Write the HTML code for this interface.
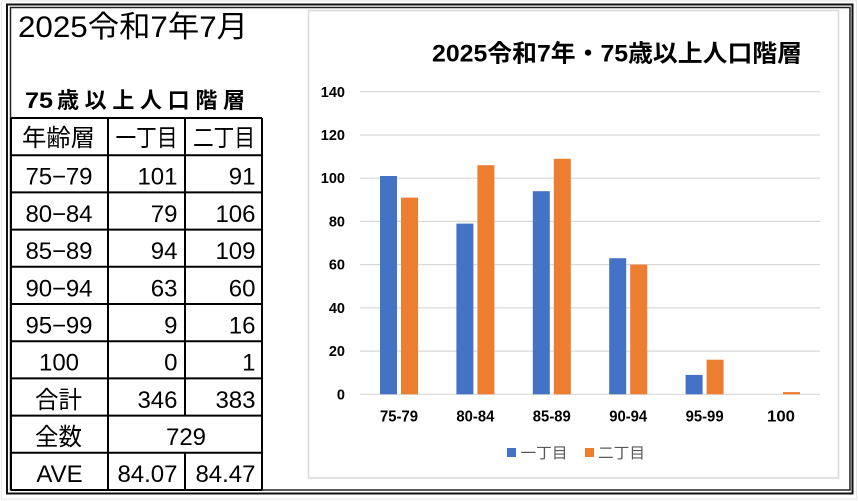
<!DOCTYPE html>
<html>
<head>
<meta charset="utf-8">
<style>
  html,body{margin:0;padding:0;background:#fff;}
  svg{display:block;}
  text{font-family:"Liberation Sans","Noto Sans CJK JP",sans-serif;}
</style>
</head>
<body>
<svg width="858" height="501" viewBox="0 0 858 501" xmlns="http://www.w3.org/2000/svg">
  <rect x="0" y="0" width="858" height="501" fill="#fff"/>

  <!-- faint outer edge -->
  <rect x="1.5" y="1" width="855" height="498" fill="none" stroke="#e6e6e6" stroke-width="1"/>

  <!-- double frame -->
  <rect x="7" y="4.5" width="845.5" height="489" fill="none" stroke="#111" stroke-width="2"/>
  <rect x="10.5" y="7.5" width="839.5" height="482.5" fill="none" stroke="#222" stroke-width="1.5"/>

  <!-- Left panel title -->
  <text x="18" y="37" font-size="30" fill="#000" textLength="230" lengthAdjust="spacingAndGlyphs">2025令和7年7月</text>
  <text x="25" y="108" font-size="22" font-weight="bold" fill="#000" textLength="28" lengthAdjust="spacingAndGlyphs">75</text>
  <text x="57" y="108" font-size="22" font-weight="bold" fill="#000" textLength="188" lengthAdjust="spacing">歳以上人口階層</text>

  <!-- Table grid -->
  <g stroke="#000" stroke-width="2" fill="none">
    <line x1="11" y1="118" x2="262" y2="118"/>
    <line x1="11" y1="155.2" x2="262" y2="155.2"/>
    <line x1="11" y1="192.4" x2="262" y2="192.4"/>
    <line x1="11" y1="229.6" x2="262" y2="229.6"/>
    <line x1="11" y1="266.8" x2="262" y2="266.8"/>
    <line x1="11" y1="304" x2="262" y2="304"/>
    <line x1="11" y1="341.2" x2="262" y2="341.2"/>
    <line x1="11" y1="378.4" x2="262" y2="378.4"/>
    <line x1="11" y1="415.6" x2="262" y2="415.6"/>
    <line x1="11" y1="452.8" x2="262" y2="452.8"/>
    <line x1="11" y1="490" x2="262" y2="490"/>
    <line x1="11" y1="118" x2="11" y2="490"/>
    <line x1="108" y1="118" x2="108" y2="490"/>
    <line x1="185" y1="118" x2="185" y2="415.6"/>
    <line x1="185" y1="452.8" x2="185" y2="490"/>
    <line x1="262" y1="118" x2="262" y2="490"/>
  </g>

  <!-- Table text -->
  <g font-size="24" fill="#000">
    <text x="58.5" y="146" text-anchor="middle" textLength="73" lengthAdjust="spacingAndGlyphs">年齢層</text>
    <text x="146.5" y="146" text-anchor="middle" textLength="62" lengthAdjust="spacingAndGlyphs">一丁目</text>
    <text x="224" y="146" text-anchor="middle" textLength="62" lengthAdjust="spacingAndGlyphs">二丁目</text>

    <text x="59" y="184.7" text-anchor="middle" textLength="67" lengthAdjust="spacing">75−79</text>
    <text x="177.5" y="184.7" text-anchor="end">101</text>
    <text x="255.5" y="184.7" text-anchor="end">91</text>

    <text x="59" y="221.9" text-anchor="middle" textLength="67" lengthAdjust="spacing">80−84</text>
    <text x="177.5" y="221.9" text-anchor="end">79</text>
    <text x="255.5" y="221.9" text-anchor="end">106</text>

    <text x="59" y="259.1" text-anchor="middle" textLength="67" lengthAdjust="spacing">85−89</text>
    <text x="177.5" y="259.1" text-anchor="end">94</text>
    <text x="255.5" y="259.1" text-anchor="end">109</text>

    <text x="59" y="296.3" text-anchor="middle" textLength="67" lengthAdjust="spacing">90−94</text>
    <text x="177.5" y="296.3" text-anchor="end">63</text>
    <text x="255.5" y="296.3" text-anchor="end">60</text>

    <text x="59" y="333.5" text-anchor="middle" textLength="67" lengthAdjust="spacing">95−99</text>
    <text x="177.5" y="333.5" text-anchor="end">9</text>
    <text x="255.5" y="333.5" text-anchor="end">16</text>

    <text x="59" y="370.7" text-anchor="middle">100</text>
    <text x="177.5" y="370.7" text-anchor="end">0</text>
    <text x="255.5" y="370.7" text-anchor="end">1</text>

    <text x="58.5" y="407.9" text-anchor="middle" textLength="47" lengthAdjust="spacingAndGlyphs">合計</text>
    <text x="177.5" y="407.9" text-anchor="end">346</text>
    <text x="255.5" y="407.9" text-anchor="end">383</text>

    <text x="58.5" y="445.1" text-anchor="middle" textLength="47" lengthAdjust="spacingAndGlyphs">全数</text>
    <text x="186" y="445.1" text-anchor="middle">729</text>

    <text x="59.5" y="482" text-anchor="middle">AVE</text>
    <text x="177.5" y="482" text-anchor="end">84.07</text>
    <text x="255.5" y="482" text-anchor="end">84.47</text>
  </g>

  <!-- Chart box -->
  <rect x="308.5" y="10.5" width="530" height="467.5" fill="#fff" stroke="#d9d9d9" stroke-width="1.5"/>

  <!-- Chart title -->
  <text x="432" y="61.5" font-size="24" font-weight="bold" fill="#000" textLength="370" lengthAdjust="spacingAndGlyphs">2025令和7年・75歳以上人口階層</text>

  <!-- Gridlines -->
  <g stroke="#d9d9d9" stroke-width="1.2">
    <line x1="360" y1="394.3" x2="820" y2="394.3"/>
    <line x1="360" y1="351.1" x2="820" y2="351.1"/>
    <line x1="360" y1="307.9" x2="820" y2="307.9"/>
    <line x1="360" y1="264.6" x2="820" y2="264.6"/>
    <line x1="360" y1="221.4" x2="820" y2="221.4"/>
    <line x1="360" y1="178.2" x2="820" y2="178.2"/>
    <line x1="360" y1="135.0" x2="820" y2="135.0"/>
    <line x1="360" y1="91.8" x2="820" y2="91.8"/>
  </g>

  <!-- Y labels -->
  <g font-size="14.5" font-weight="bold" fill="#000" text-anchor="end">
    <text x="345" y="399.3">0</text>
    <text x="345" y="356.1">20</text>
    <text x="345" y="312.9">40</text>
    <text x="345" y="269.6">60</text>
    <text x="345" y="226.4">80</text>
    <text x="345" y="183.2">100</text>
    <text x="345" y="140.0">120</text>
    <text x="345" y="96.8">140</text>
  </g>

  <!-- Bars: blue -->
  <g fill="#4472c4">
    <rect x="380" y="176.0" width="17" height="218.3"/>
    <rect x="456.4" y="223.6" width="17" height="170.7"/>
    <rect x="532.8" y="191.2" width="17" height="203.1"/>
    <rect x="609.2" y="258.2" width="17" height="136.1"/>
    <rect x="685.6" y="374.9" width="17" height="19.4"/>
  </g>
  <!-- Bars: orange -->
  <g fill="#ed7d31">
    <rect x="401" y="197.6" width="17" height="196.7"/>
    <rect x="477.4" y="165.2" width="17" height="229.1"/>
    <rect x="553.8" y="158.8" width="17" height="235.5"/>
    <rect x="630.2" y="264.6" width="17" height="129.7"/>
    <rect x="706.6" y="359.7" width="17" height="34.6"/>
    <rect x="783" y="392.1" width="17" height="2.2"/>
  </g>

  <!-- X labels -->
  <g font-size="15.5" font-weight="bold" fill="#000" text-anchor="middle">
    <text x="399" y="421.5" textLength="38" lengthAdjust="spacingAndGlyphs">75-79</text>
    <text x="475.4" y="421.5" textLength="38" lengthAdjust="spacingAndGlyphs">80-84</text>
    <text x="551.8" y="421.5" textLength="38" lengthAdjust="spacingAndGlyphs">85-89</text>
    <text x="628.2" y="421.5" textLength="38" lengthAdjust="spacingAndGlyphs">90-94</text>
    <text x="704.6" y="421.5" textLength="38" lengthAdjust="spacingAndGlyphs">95-99</text>
    <text x="781" y="421.5" textLength="28" lengthAdjust="spacingAndGlyphs">100</text>
  </g>

  <!-- Legend -->
  <rect x="507" y="448" width="9" height="9" fill="#4472c4"/>
  <text x="520.5" y="458" font-size="15" fill="#595959" textLength="47" lengthAdjust="spacingAndGlyphs">一丁目</text>
  <rect x="585" y="448" width="9" height="9" fill="#ed7d31"/>
  <text x="598" y="458" font-size="15" fill="#595959" textLength="47" lengthAdjust="spacingAndGlyphs">二丁目</text>
</svg>
</body>
</html>
